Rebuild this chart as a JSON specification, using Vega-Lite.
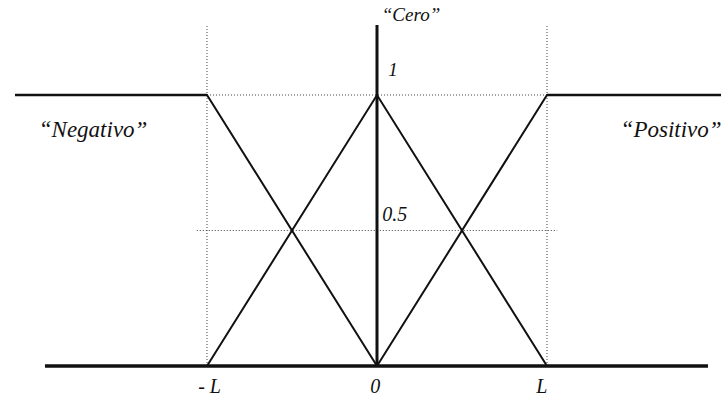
{
  "$schema": "https://vega.github.io/schema/vega-lite/v6.json",
  "width": 726,
  "height": 404,
  "padding": 0,
  "autosize": {"type": "fit", "contains": "padding"},
  "background": "white",
  "config": {"view": {"stroke": null}},
  "datasets": {
    "mf": [
      {"set": "Negativo", "o": 1, "x": -2.129, "y": 1},
      {"set": "Negativo", "o": 2, "x": -1, "y": 1},
      {"set": "Negativo", "o": 3, "x": 0, "y": 0},
      {"set": "Cero", "o": 1, "x": -1, "y": 0},
      {"set": "Cero", "o": 2, "x": 0, "y": 1},
      {"set": "Cero", "o": 3, "x": 1, "y": 0},
      {"set": "Positivo", "o": 1, "x": 0, "y": 0},
      {"set": "Positivo", "o": 2, "x": 1, "y": 1},
      {"set": "Positivo", "o": 3, "x": 2.0235, "y": 1}
    ],
    "flat": [
      {"set": "NegTop", "x": -2.129, "x2": -1, "y": 1},
      {"set": "PosTop", "x": 1, "x2": 2.0235, "y": 1}
    ],
    "axisx": [{"x": -1.953, "x2": 1.947, "y": 0}],
    "axisy": [{"x": 0, "y": 0, "y2": 1.258}],
    "hdots": [
      {"x": -1, "x2": 1, "y": 1},
      {"x": -1.06, "x2": 1.06, "y": 0.5}
    ],
    "vdots": [
      {"x": -1, "y": 0, "y2": 1.258},
      {"x": 1, "y": 0, "y2": 1.258}
    ],
    "labels": [
      {"t": "“Cero”", "x": 0.2, "y": 1.295, "size": 19},
      {"t": "1", "x": 0.094, "y": 1.092, "size": 19},
      {"t": "0.5", "x": 0.105, "y": 0.557, "size": 20},
      {"t": "“Negativo”", "x": -1.67, "y": 0.871, "size": 23},
      {"t": "“Positivo”", "x": 1.73, "y": 0.871, "size": 23},
      {"t": "- L", "x": -0.985, "y": -0.076, "size": 20},
      {"t": "0", "x": -0.01, "y": -0.076, "size": 20},
      {"t": "L", "x": 0.97, "y": -0.076, "size": 20}
    ]
  },
  "layer": [
    {
      "data": {"name": "vdots"},
      "mark": {"type": "rule", "color": "#444", "strokeWidth": 1, "strokeDash": [1, 2]},
      "encoding": {
        "x": {"field": "x", "type": "quantitative", "scale": {"domain": [-2.2176, 2.0529], "nice": false, "zero": false}, "axis": null},
        "y": {"field": "y", "type": "quantitative", "scale": {"domain": [-0.1402, 1.3506], "nice": false, "zero": false}, "axis": null},
        "y2": {"field": "y2"}
      }
    },
    {
      "data": {"name": "hdots"},
      "mark": {"type": "rule", "color": "#444", "strokeWidth": 1, "strokeDash": [1, 2]},
      "encoding": {
        "x": {"field": "x", "type": "quantitative"},
        "x2": {"field": "x2"},
        "y": {"field": "y", "type": "quantitative"}
      }
    },
    {
      "data": {"name": "mf"},
      "mark": {"type": "line", "color": "#111", "strokeWidth": 2},
      "encoding": {
        "x": {"field": "x", "type": "quantitative"},
        "y": {"field": "y", "type": "quantitative"},
        "detail": {"field": "set"},
        "order": {"field": "o"}
      }
    },
    {
      "data": {"name": "flat"},
      "mark": {"type": "rule", "color": "#111", "strokeWidth": 2.5},
      "encoding": {
        "x": {"field": "x", "type": "quantitative"},
        "x2": {"field": "x2"},
        "y": {"field": "y", "type": "quantitative"}
      }
    },
    {
      "data": {"name": "axisx"},
      "mark": {"type": "rule", "color": "#111", "strokeWidth": 3.5},
      "encoding": {
        "x": {"field": "x", "type": "quantitative"},
        "x2": {"field": "x2"},
        "y": {"field": "y", "type": "quantitative"}
      }
    },
    {
      "data": {"name": "axisy"},
      "mark": {"type": "rule", "color": "#111", "strokeWidth": 3},
      "encoding": {
        "x": {"field": "x", "type": "quantitative"},
        "y": {"field": "y", "type": "quantitative"},
        "y2": {"field": "y2"}
      }
    },
    {
      "data": {"name": "labels"},
      "mark": {"type": "text", "font": "Liberation Serif", "fontStyle": "italic", "color": "#111", "align": "center", "baseline": "middle"},
      "encoding": {
        "x": {"field": "x", "type": "quantitative"},
        "y": {"field": "y", "type": "quantitative"},
        "text": {"field": "t"},
        "size": {"field": "size", "type": "quantitative", "scale": null}
      }
    }
  ]
}
